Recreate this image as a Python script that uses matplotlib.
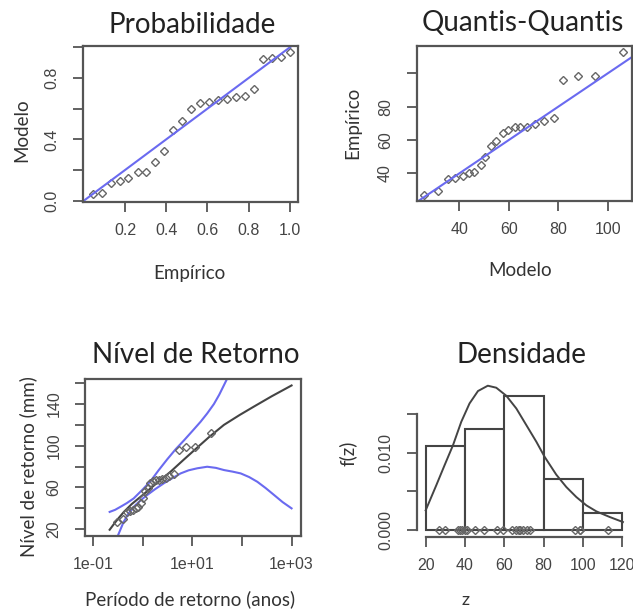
import numpy as np
import matplotlib.pyplot as plt

# 23 valores (maximos ordenados)
emp_prob = [0.043, 0.087, 0.130, 0.174, 0.217, 0.261, 0.304, 0.348, 0.391, 0.435, 0.478, 0.522,
            0.565, 0.609, 0.652, 0.696, 0.739, 0.783, 0.826, 0.870, 0.913, 0.957, 1.000]
mod_prob = [0.042, 0.048, 0.117, 0.128, 0.146, 0.185, 0.189, 0.254, 0.326, 0.461, 0.520, 0.598,
            0.635, 0.641, 0.656, 0.661, 0.674, 0.682, 0.730, 0.922, 0.928, 0.935, 0.971]
mod_quant = [25.7, 31.5, 35.5, 38.3, 41.6, 44.0, 46.1, 48.7, 50.4, 52.7, 54.9, 57.6,
             59.6, 62.3, 64.6, 67.5, 70.6, 74.3, 78.1, 82.1, 87.8, 94.9, 106.0]
z_sorted = [27.0, 29.6, 36.4, 37.4, 38.4, 40.0, 41.0, 45.0, 49.6, 56.4, 59.4, 64.0,
            66.0, 67.6, 67.6, 68.0, 69.4, 71.4, 73.0, 96.0, 98.4, 98.4, 112.7]
ret_period = [0.31, 0.40, 0.48, 0.56, 0.64, 0.72, 0.81, 0.91, 1.02, 1.14, 1.28, 1.44,
              1.63, 1.86, 2.13, 2.47, 2.90, 3.48, 4.28, 5.49, 7.49, 11.5, 23.5]

# curva de nivel de retorno e limites (azul)
rl_per = [0.217, 0.26, 0.32, 0.42, 0.6, 1.0, 1.8, 3.65, 6.5, 11.7, 22, 43.4, 90, 175, 400, 1000]
rl_level = [19.5, 24.5, 30.0, 36.6, 44.0, 52.7, 63.0, 75.1, 86.0, 96.9, 108.5, 120, 129.5,
            137.6, 147.5, 157.8]
up_per = [0.217, 0.28, 0.356, 0.48, 0.66, 1.0, 1.44, 2.1, 3.13, 4.6, 6.76, 10, 14.7, 20,
          27.3, 35, 43.4, 55]
up_level = [36.6, 38.6, 41.4, 45.0, 49.5, 58.0, 66.0, 76.5, 87.0, 96.5, 105, 114, 123, 131,
            140, 149, 158, 168]
lo_per = [0.30, 0.415, 0.52, 0.66, 0.9, 1.23, 1.8, 2.67, 4.0, 5.83, 8.5, 12.6, 20, 30, 43.7,
          65, 94.6, 140, 204, 300, 447, 660, 1000]
lo_level = [11, 27, 35.0, 41.4, 47.5, 52.7, 58.5, 64, 69.0, 73.5, 76.5, 78.4, 79.9, 78.8, 76.7,
            75.2, 73.5, 70.0, 65.5, 59.5, 52.7, 46.0, 40]

# densidade
dens_x = [20, 25.4, 29.6, 33.9, 38.1, 42.3, 46.6, 51.6, 55.9, 61, 66.1, 71.2, 76.3, 80.5,
          86.4, 91.5, 96.6, 101.7, 106.8, 113.6, 120.3]
dens_y = [0.00251, 0.00576, 0.00835, 0.01095, 0.01398, 0.01636, 0.01797, 0.01866, 0.0184,
          0.01736, 0.01571, 0.01355, 0.01139, 0.00944, 0.00714, 0.00554, 0.00424, 0.00316,
          0.00238, 0.00165, 0.001]
bins = [20, 40, 60, 80, 100, 120]

plt.rcParams['font.family'] = ['Liberation Sans', 'DejaVu Sans']

W, H = 633, 611
fig = plt.figure(figsize=(W / 100, H / 100), dpi=100)

TFONT = 'Lato'
BLUE = '#6a6af0'
GRAY = '#555555'


def box(l, t, r, b):
    return fig.add_axes([l / W, 1 - b / H, (r - l) / W, (b - t) / H])


def r_style(ax):
    for s in ax.spines.values():
        s.set_color(GRAY)
        s.set_linewidth(1.6)
    ax.tick_params(direction='out', length=7, width=1.3, color=GRAY, labelcolor='#444444',
                   labelsize=11.5)
    ax.tick_params(axis='x', pad=8)
    ax.tick_params(axis='y', pad=10)


def ftext(x, y, s, size, rot=0, color='#333333'):
    fig.text(x / W, 1 - y / H, s, ha='center', va='center', rotation=rot,
             fontsize=size, family=TFONT, color=color)


pts = dict(ls='none', marker='D', ms=4.4, mfc='none', mec='#666666', mew=1.0)

# Probabilidade
ax1 = box(83.3, 46, 298, 201.7)
ax1.plot(emp_prob, mod_prob, **pts)
ax1.axline((0, 0), slope=1, color=BLUE, lw=1.5)
ax1.set_xlim(-0.002, 1.039)
ax1.set_ylim(-0.006, 1.008)
ax1.set_xticks([0.2, 0.4, 0.6, 0.8, 1.0], ['0.2', '0.4', '0.6', '0.8', '1.0'])
ax1.set_yticks([0.0, 0.2, 0.4, 0.6, 0.8, 1.0], ['0.0', '', '0.4', '', '0.8', ''],
               rotation=90, va='center')
r_style(ax1)

# Quantis-Quantis
ax2 = box(416.7, 46, 632, 201)
ax2.plot(mod_quant, z_sorted, **pts)
ax2.axline((0, 0), slope=1, color=BLUE, lw=1.5)
ax2.set_xlim(22.75, 109.8)
ax2.set_ylim(23.4, 116.4)
ax2.set_xticks([40, 60, 80, 100], ['40', '60', '80', '100'])
ax2.set_yticks([40, 60, 80, 100], ['40', '60', '80', ''], rotation=90, va='center')
r_style(ax2)

# Nivel de Retorno
ax3 = box(85, 379, 300.5, 536)
ax3.set_xscale('log')
ax3.plot(rl_per, rl_level, color='#444444', lw=1.5)
ax3.plot(up_per, up_level, color=BLUE, lw=1.5)
ax3.plot(lo_per, lo_level, color=BLUE, lw=1.5)
ax3.plot(ret_period, z_sorted, **pts)
ax3.set_xlim(10 ** -1.16, 10 ** 3.18)
ax3.set_ylim(13.5, 164)
ax3.set_xticks([0.1, 1, 10, 100, 1000], ['1e-01', '', '1e+01', '', '1e+03'])
ax3.minorticks_off()
ax3.set_yticks([20, 40, 60, 80, 100, 120, 140, 160],
               ['20', '', '60', '', '100', '', '140', ''], rotation=90, va='center')
r_style(ax3)

# Densidade
ax4 = box(417, 380, 631, 536.7)
ax4.hist(z_sorted, bins=bins, density=True, facecolor='white', edgecolor='#444444', lw=1.5)
ax4.plot(dens_x, dens_y, color='#444444', lw=1.4)
ax4.plot(z_sorted, np.zeros(len(z_sorted)), **pts)
ax4.set_xlim(15.6, 124.4)
ax4.set_ylim(-0.0009, 0.0194)
ax4.set_xticks(bins, [str(b) for b in bins])
ax4.set_yticks([0.0, 0.005, 0.010, 0.015], ['0.000', '', '0.010', ''], rotation=90, va='center')
ax4.spines['top'].set_visible(False)
ax4.spines['right'].set_visible(False)
r_style(ax4)
ax4.spines['left'].set_bounds(0, 0.015)
ax4.spines['bottom'].set_bounds(20, 120)

# titulos e rotulos
ftext(192.5, 25, 'Probabilidade', 20, color='#222222')
ftext(522.5, 23, 'Quantis-Quantis', 20, color='#222222')
ftext(196, 355, 'Nível de Retorno', 20, color='#222222')
ftext(521.7, 355, 'Densidade', 20, color='#222222')

ftext(189, 273, 'Empírico', 13.5)
ftext(21.7, 130, 'Modelo', 13.5, rot=90)
ftext(520, 270, 'Modelo', 13.5)
ftext(353, 123, 'Empírico', 13.5, rot=90)
ftext(190, 599, 'Período de retorno (anos)', 13.5)
ftext(28, 467, 'Nível de retorno (mm)', 13.5, rot=90)
ftext(465.7, 600, 'z', 13)
ftext(348, 453, 'f(z)', 13.5, rot=90)

fig.savefig('out.png', dpi=100)
